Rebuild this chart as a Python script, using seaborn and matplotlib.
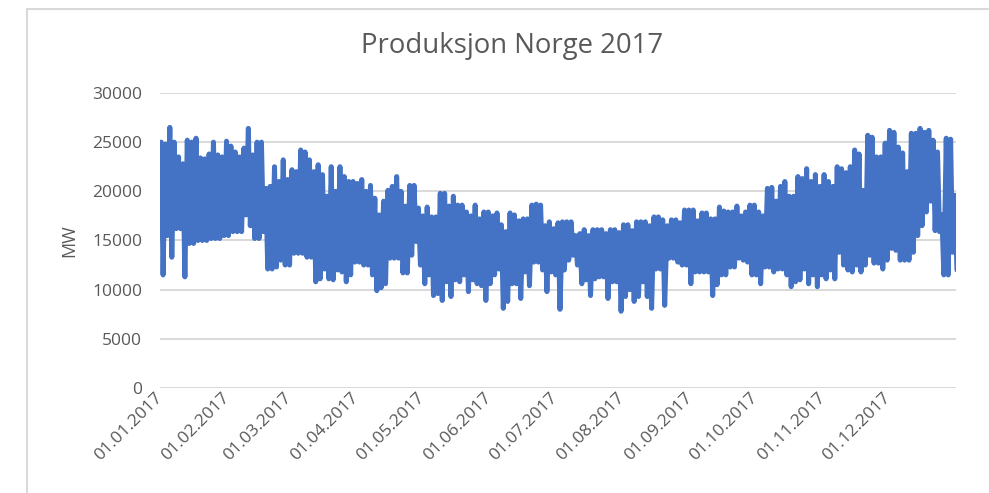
import matplotlib
matplotlib.use("Agg")
import matplotlib.pyplot as plt
import matplotlib.dates as mdates
from matplotlib.patches import Rectangle
import seaborn as sns
import numpy as np
import pandas as pd

# Dagens topp og bunn (MW), ett par for hver andre dag fra 01.01.2017
topp_mw = [
    25000, 24800, 26500, 25000, 23500, 22800, 25200, 25000, 25400, 23400,
    23300, 23800, 25000, 23700, 23500, 25100, 24600, 24000, 23500, 24400,
    26400, 23700, 25000, 25000, 20300, 20500, 22500, 21000, 23200, 21200,
    22200, 22000, 24200, 24000, 23200, 22000, 22700,
    21700, 19500, 22500, 20000, 22500, 21500, 21000, 21000, 20800, 21200,
    20000, 20600, 19300, 17600, 19000, 20100, 20500, 21500, 20000, 18500,
    20600, 20600, 18300, 17500, 18400, 17400, 17400, 19800, 19800, 18500,
    19500, 18600, 18600, 17900, 17500, 18600,
    17200, 17900, 17900, 17500, 17800, 16600, 15900, 17800, 17600, 17000,
    17200, 17200, 18600, 18700, 18600, 16500, 16900, 16200, 16800, 16900,
    16900, 16900, 15500, 15700, 16100, 15500, 16100, 16100, 16100, 15700,
    16100, 16100, 15800, 16600, 16600, 16000, 16900,
    16900, 16900, 16500, 17400, 17400, 17100, 16500, 17100, 17100, 16800,
    18100, 18100, 18100, 17000, 17800, 17800, 17200, 17200, 18400, 18000,
    17900, 17900, 18500, 17500, 17900, 18600, 18600, 17900, 17500, 20300,
    20400, 19000, 20500, 21000, 19500, 19500,
    21500, 21300, 22300, 21000, 21700, 20500, 21700, 21000, 20500, 22500,
    22300, 21900, 22500, 24200, 23800, 20100, 25700, 25500, 23500, 23500,
    24900, 26200, 26000, 24500, 23900, 22000, 25900, 25900, 26400, 26000,
    26200, 25200, 24000, 17600, 25400, 25300, 19600,
]

bunn_mw = [
    11500, 15500, 13300, 16200, 16200, 11300, 14700, 14700, 15000, 15000,
    15000, 15200, 15200, 15200, 15500, 15500, 15900, 15900, 15900, 17600,
    16500, 15200, 15200, 15900, 12100, 12100, 12300, 13000, 12500, 12500,
    13700, 13700, 13700, 13300, 13300, 10800, 11100,
    12100, 11100, 11000, 12000, 11800, 10800, 11500, 12800, 12800, 12500,
    12500, 11500, 9900, 10200, 10600, 13200, 13200, 13200, 11700, 11700,
    13500, 14900, 12500, 10600, 11500, 9400, 9600, 8900, 10800, 9300,
    11000, 10800, 11500, 9800, 11000, 10600,
    10400, 8900, 10600, 11500, 12100, 8100, 8800, 10600, 10600, 9100,
    11800, 10400, 12800, 12800, 12000, 9800, 11800, 11500, 8000, 12000,
    13000, 13500, 12500, 10600, 11000, 9400, 11100, 11300, 11300, 9100,
    10800, 10800, 7800, 9300, 10000, 8800, 9300,
    10800, 9300, 8100, 12100, 12100, 8400, 13200, 13200, 12800, 12500,
    12500, 10600, 11800, 11800, 11800, 11800, 9400, 10500, 11500, 11500,
    12300, 12300, 13200, 13000, 12800, 11500, 11500, 10600, 12300, 12300,
    11800, 12100, 12100, 11500, 10300, 10800,
    11000, 12100, 10600, 11500, 10300, 11500, 11100, 12000, 11100, 13800,
    12500, 12000, 11800, 12500, 11800, 12500, 13500, 12700, 12700, 12100,
    13000, 14200, 14000, 13000, 13000, 13000, 13800, 15500, 16500, 17900,
    19000, 16000, 15900, 11500, 11500, 13800, 12000,
]

start = pd.Timestamp("2017-01-01")

# Bygg tidsserien: topp midt på dag 1, bunn midt på dag 2 i hvert par
tider = []
verdier = []
for i, (hoy, lav) in enumerate(zip(topp_mw, bunn_mw)):
    tider.append(start + pd.Timedelta(days=2 * i + 0.5))
    verdier.append(hoy)
    tider.append(start + pd.Timedelta(days=2 * i + 1.4))
    verdier.append(lav)

df = pd.DataFrame({"tid": tider, "MW": verdier})

sns.set_style("white")
plt.rcParams["font.family"] = ["Open Sans", "DejaVu Sans"]

gra_tekst = "#595959"
fig = plt.figure(figsize=(9.89, 4.93), dpi=100)
ax = fig.add_axes([0.1618, 0.213, 0.8048, 0.5984])

sns.lineplot(data=df, x="tid", y="MW", color="#4472C4", linewidth=3.6,
             solid_joinstyle="round", solid_capstyle="round", ax=ax)

ax.set_xlim(start, pd.Timestamp("2017-12-31 23:00"))
ax.set_ylim(0, 30000)
ax.set_yticks(np.arange(0, 30001, 5000))
ax.yaxis.grid(True, color="#d9d9d9", linewidth=1.4)
ax.set_axisbelow(True)
sns.despine(ax=ax, left=True, bottom=True)

ax.xaxis.set_major_locator(mdates.MonthLocator())
ax.xaxis.set_major_formatter(mdates.DateFormatter("%d.%m.%Y"))
ax.tick_params(axis="both", length=0, labelsize=12.5, labelcolor=gra_tekst)
ax.tick_params(axis="y", pad=13)
ax.tick_params(axis="x", pad=5)
plt.setp(ax.get_xticklabels(), rotation=45, ha="right", va="center",
         rotation_mode="anchor")

ax.set_xlabel("")
ax.set_ylabel("MW", fontsize=13, color=gra_tekst)
ax.yaxis.set_label_coords(-0.103, 0.5)

fig.text(0.518, 0.906, "Produksjon Norge 2017", ha="center", va="center",
         fontsize=19.8, color=gra_tekst)

# Ramme rundt diagramområdet (kuttet i høyre og nedre kant)
fig.add_artist(Rectangle((27 / 989, -0.2), 1.2, 1.2 - 9 / 493,
                         transform=fig.transFigure, facecolor="none",
                         edgecolor="#d9d9d9", linewidth=1.5))

fig.savefig("out.png", dpi=100, facecolor="white")
plt.close(fig)
